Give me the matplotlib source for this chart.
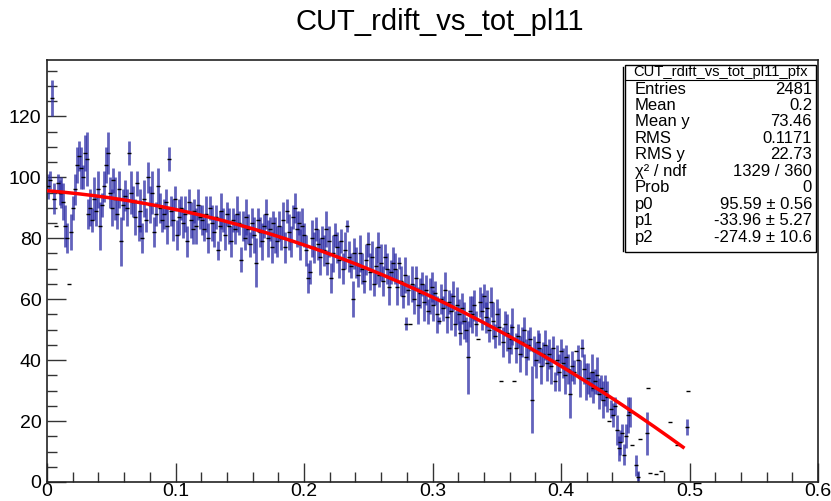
import numpy as np
import matplotlib
matplotlib.use('Agg')
import matplotlib.pyplot as plt
from matplotlib.patches import Rectangle
from matplotlib.lines import Line2D
from matplotlib.ticker import MultipleLocator

plt.rcParams['font.family'] = ['Liberation Sans', 'DejaVu Sans']

TITLE = 'CUT_rdift_vs_tot_pl11'

# profile bins: width 0.0015 starting at 0 (None = empty bin)
BIN_WIDTH = 0.0015
profile_y = [
    97, 99, 126, 93, 84, 98, 95, 95, 92, 84, 80, 65, 82, 90, 96, 104, 107, 103, 100, 108,
    106, 88, 90, 86, 93, 89, 96, 84, 91, 97, 104, 108, 95, 90, 99, 93, 88, 96, 79, 91,
    94, 90, 108, 95, 92, 87, 98, 84, 89, 80, 93, 86, 100, 91, 95, 82, 88, 97, 90, 86,
    88, 92, 84, 106, 89, 86, 93, 81, 87, 90, 85, 88, 79, 92, 86, 83, 89, 84, 91, 87,
    86, 83, 88, 80, 90, 85, 82, 87, 76, 84, 89, 86, 81, 88, 84, 79, 86, 83, 88, 85,
    73, 84, 80, 87, 83, 78, 85, 81, 72, 86, 82, 79, 84, 88, 80, 83, 77, 85, 81, 79,
    84, 80, 86, 77, 89, 82, 79, 87, 90, 83, 85, 78, 84, 81, 76, 67, 69, 80, 77, 83,
    78, 74, 80, 76, 83, 72, 79, 67, 75, 81, 77, 73, 79, 70, 76, 84, 74, 71, 60, 75,
    72, 68, 75, 70, 66, 73, 78, 69, 74, 65, 71, 77, 68, 72, 66, 74, 70, 64, 69, 72,
    70, 64, 72, 66, 61, 68, 52, 63, 52, 65, 60, 67, 58, 62, 65, 59, 63, 56, 61, 64,
    58, 62, 55, 53, 60, 57, 63, 54, 59, 56, 61, 52, 58, 55, 49, 57, 53, 50, 41, 56,
    55, 58, 52, 47, 59, 56, 61, 54, 57, 50, 59, 53, 48, 55, 51, 33, 46, 52, 49, 44,
    47, 51, 33, 44, 48, 42, 46, 50, 41, 45, 47, 27, 43, 40, 46, 44, 38, 42, 45, 39,
    42, 38, 44, 33, 40, 36, 43, 39, 35, 41, 37, 29, 38, 36, 43, 40, 34, 44, 37, 33,
    34, 32, 36, 31, 33, 35, 29, 31, 27, 30, 28, 20, 24, 22, 25, 17, 11, 13, 16, 9,
    15, 22, 23, 12, None, 5.5, 1.5, 14,
]
profile_err = [
    4, 3, 6, 5, 0, 3, 4, 5, 6, 7, 5, 0, 6, 4, 5, 6, 5, 7, 4, 6,
    9, 5, 6, 4, 7, 5, 6, 8, 4, 5, 6, 7, 5, 6, 4, 7, 5, 6, 8, 5,
    5, 6, 4, 7, 5, 6, 4, 5, 7, 5, 6, 4, 5, 6, 7, 5, 4, 6, 5, 4,
    5, 4, 6, 4, 5, 7, 4, 5, 6, 4, 5, 6, 5, 4, 6, 5, 4, 6, 5, 4,
    5, 4, 6, 5, 4, 6, 5, 4, 3, 5, 6, 4, 5, 4, 6, 5, 4, 5, 6, 4,
    4, 5, 4, 6, 5, 4, 5, 6, 8, 4, 5, 6, 4, 5, 6, 4, 5, 4, 6, 5,
    5, 4, 6, 5, 4, 6, 5, 4, 5, 6, 4, 5, 6, 4, 5, 5, 4, 6, 5, 4,
    5, 6, 4, 5, 6, 4, 5, 5, 6, 4, 5, 6, 4, 5, 6, 2, 5, 4, 6, 5,
    5, 4, 6, 5, 4, 5, 4, 6, 5, 4, 6, 5, 4, 6, 5, 4, 5, 6, 4, 5,
    5, 6, 2, 5, 4, 6, 2, 5, 0, 6, 5, 4, 6, 5, 4, 6, 5, 4, 6, 5,
    5, 4, 6, 1, 5, 4, 6, 5, 4, 6, 5, 4, 6, 5, 4, 5, 6, 4, 12, 5,
    6, 5, 4, 0, 5, 6, 4, 5, 6, 4, 5, 6, 4, 5, 6, 0, 5, 4, 6, 5,
    5, 6, 0, 5, 4, 6, 5, 4, 6, 5, 4, 11, 5, 6, 4, 5, 6, 4, 5, 6,
    5, 6, 4, 3, 5, 6, 4, 5, 6, 4, 5, 8, 5, 4, 0, 5, 6, 3, 5, 6,
    5, 4, 6, 5, 4, 6, 5, 4, 6, 5, 5, 0, 3, 4, 3, 5, 4, 4, 3, 3.5,
    4, 6, 5, 0, None, 3.5, 2, 0,
]

# sparse points at the end of the range
tail_x = [0.467, 0.468, 0.469, 0.474, 0.478, 0.485, 0.490, 0.498, 0.499]
tail_y = [16, 31, 3, 2.5, 3.5, 19.6, 12.3, 18, 30]
tail_err = [7, 0, 0, 0, 0, 0, 0, 2.7, 0]

# pol2 fit
fit_params = [95.59, -33.96, -274.9]
fit_range = (0.0, 0.495)

stats_rows = [
    ('Entries', '2481'),
    ('Mean', '0.2'),
    ('Mean y', '73.46'),
    ('RMS', '0.1171'),
    ('RMS y', '22.73'),
    ('χ² / ndf', '1329 / 360'),
    ('Prob', '0'),
    ('p0', '95.59 ± 0.56'),
    ('p1', '-33.96 ± 5.27'),
    ('p2', '-274.9 ± 10.6'),
]

W, H = 831, 501


def fx(px):
    return px / W


def fy(py):
    return 1 - py / H


y = np.array(profile_y, dtype=float)
err = np.array(profile_err, dtype=float)
x = (np.arange(len(y)) + 0.5) * BIN_WIDTH
x = np.concatenate([x, tail_x])
y = np.concatenate([y, tail_y])
err = np.concatenate([err, tail_err])
ok = ~np.isnan(y)
x, y, err = x[ok], y[ok], err[ok]

fig = plt.figure(figsize=(W / 100, H / 100), dpi=100)
ax = fig.add_axes([fx(47), fy(482), fx(818) - fx(47), fy(60) - fy(482)])

ax.errorbar(x, y, yerr=err, fmt='none', ecolor='#2e2ea6', elinewidth=2.0,
            alpha=0.75, zorder=2)
ax.plot(x, y, linestyle='none', marker='_', markersize=3.5, mew=1.0,
        color='black', zorder=3)

xf = np.linspace(fit_range[0], fit_range[1], 200)
yf = fit_params[0] + fit_params[1] * xf + fit_params[2] * xf ** 2
ax.plot(xf, yf, color='#ff0000', lw=2.5, zorder=4)

ax.set_xlim(0, 0.6)
ax.set_ylim(0, 138.5)
ax.xaxis.set_major_locator(MultipleLocator(0.1))
ax.xaxis.set_minor_locator(MultipleLocator(0.02))
ax.yaxis.set_major_locator(MultipleLocator(20))
ax.yaxis.set_minor_locator(MultipleLocator(5))
ax.tick_params(which='both', direction='in', top=False, right=False,
               labelsize=14, width=1.0, color='#333333')
ax.tick_params(which='major', length=14)
ax.tick_params(which='minor', length=7)
ax.tick_params(axis='x', pad=1)
ax.tick_params(axis='y', pad=4)
ax.set_xticks([0, 0.1, 0.2, 0.3, 0.4, 0.5, 0.6])
ax.set_xticklabels(['0', '0.1', '0.2', '0.3', '0.4', '0.5', '0.6'])
for sp in ax.spines.values():
    sp.set_linewidth(1.2)
    sp.set_color('#222222')

fig.text(fx(440), fy(22), TITLE, ha='center', va='center', fontsize=21)

# stats box
bx0, bx1, by0, by1 = 625, 816, 65, 252
box = Rectangle((fx(bx0), fy(by1)), fx(bx1) - fx(bx0), fy(by0) - fy(by1),
                transform=fig.transFigure, facecolor='white', edgecolor='black',
                lw=1.0, zorder=10)
fig.add_artist(box)
fig.add_artist(Line2D([fx(bx0 - 2), fx(bx0 - 2)], [fy(by1 - 1), fy(by0 + 2)],
                      transform=fig.transFigure, color='black', lw=1.0, zorder=10))
fig.add_artist(Line2D([fx(bx0), fx(bx1)], [fy(80), fy(80)],
                      transform=fig.transFigure, color='black', lw=0.8, zorder=11))
fig.text(fx((bx0 + bx1) / 2), fy(72), 'CUT_rdift_vs_tot_pl11_pfx', ha='center',
         va='center', fontsize=10.6, zorder=12)
row_y0, row_dy = 89, 16.45
for i, (lab, val) in enumerate(stats_rows):
    yy = fy(row_y0 + i * row_dy)
    fig.text(fx(bx0 + 10), yy, lab, ha='left', va='center', fontsize=12, zorder=12)
    fig.text(fx(bx1 - 4), yy, val, ha='right', va='center', fontsize=12, zorder=12)

fig.savefig('out.png', dpi=100)
